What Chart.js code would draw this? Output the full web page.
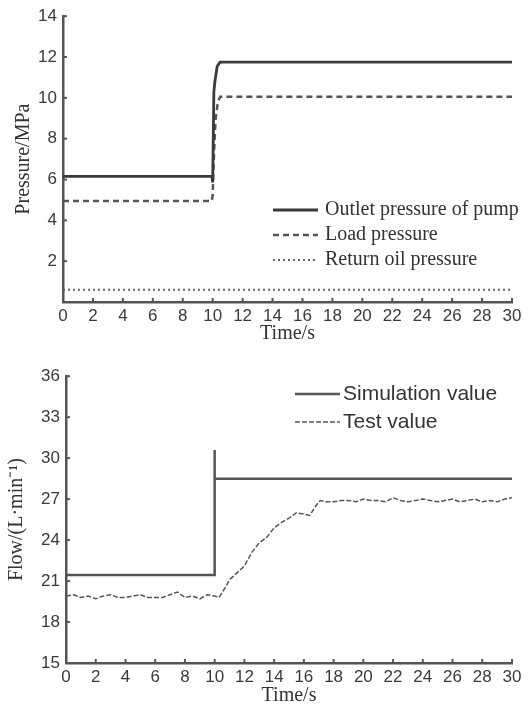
<!DOCTYPE html>
<html>
<head>
<meta charset="utf-8">
<script src="https://cdn.jsdelivr.net/npm/chart.js@4"></script>
<style>
  body { margin: 0; background: #fff; }
  canvas { position: absolute; left: 0; }
  #top { top: 0; }
  #bottom { top: 360px; }
</style>
</head>
<body>
<canvas id="top" width="529" height="360"></canvas>
<canvas id="bottom" width="529" height="350"></canvas>
<script>
// top chart: pressures
const outletTime = [0, 9.95, 10.0, 10.08, 10.15, 10.3, 10.5, 30];
const outletPressure = [6.15, 6.15, 5.85, 10.3, 10.8, 11.55, 11.75, 11.75];
const loadTime = [0, 9.95, 10.0, 10.1, 10.2, 10.35, 10.5, 30];
const loadPressure = [4.95, 4.95, 5.25, 7.5, 9.0, 9.8, 10.05, 10.05];
const returnTime = [0, 30];
const returnPressure = [0.6, 0.6];
const pressureLabels = ['Outlet pressure of pump', 'Load pressure', 'Return oil pressure'];

// bottom chart: flow
const simTime = [0, 10, 10, 10, 30];
const simFlow = [21.45, 21.45, 30.6, 28.5, 28.5];
const testTime = [0, 0.5, 1, 1.5, 2, 2.5, 3, 3.5, 4, 4.5, 5, 5.5, 6, 6.5, 7, 7.5, 8, 8.5, 9, 9.5, 10, 10.3,
  10.7, 11, 11.5, 12, 12.5, 13, 13.5, 14, 14.5, 15, 15.5, 16, 16.4, 16.8, 17.1, 17.5, 18, 18.5, 19, 19.5,
  20, 20.5, 21, 21.5, 22, 22.5, 23, 23.5, 24, 24.5, 25, 25.5, 26, 26.5, 27, 27.5, 28, 28.5, 29, 29.5, 30];
const testFlow = [19.9, 20.0, 19.8, 19.9, 19.7, 19.9, 20.0, 19.8, 19.8, 19.9, 20.0, 19.8, 19.8, 19.8, 20.0, 20.2, 19.8, 19.9, 19.7, 20.0, 19.9, 19.8,
  20.5, 21.1, 21.6, 22.1, 23.1, 23.8, 24.2, 24.9, 25.3, 25.6, 26.0, 25.9, 25.8, 26.5, 26.9, 26.8, 26.8, 26.9, 26.9, 26.8,
  27.0, 26.9, 26.9, 26.8, 27.1, 26.9, 26.8, 26.9, 27.0, 26.9, 26.8, 26.9, 27.0, 26.8, 26.9, 27.0, 26.8, 26.9, 26.8, 27.0, 27.1];
const flowLabels = ['Simulation value', 'Test value'];

const sans = '"Liberation Sans", Arial, sans-serif';
const serif = '"Liberation Serif", "Times New Roman", serif';
const axisColor = '#555';

const pts = (xs, ys) => xs.map((x, i) => ({ x: x, y: ys[i] }));

// small inward tick marks on both axes
const innerTicks = {
  id: 'innerTicks',
  afterDraw(chart) {
    const ctx = chart.ctx, a = chart.chartArea;
    const xs = chart.scales.x, ys = chart.scales.y;
    ctx.save();
    ctx.strokeStyle = axisColor;
    ctx.lineWidth = 2;
    xs.ticks.forEach(t => {
      const px = xs.getPixelForValue(t.value);
      ctx.beginPath(); ctx.moveTo(px, a.bottom); ctx.lineTo(px, a.bottom - 4); ctx.stroke();
    });
    ys.ticks.forEach(t => {
      const py = ys.getPixelForValue(t.value);
      ctx.beginPath(); ctx.moveTo(a.left, py); ctx.lineTo(a.left + 4, py); ctx.stroke();
    });
    ctx.restore();
  }
};

// legend drawn inside the plot
const innerLegend = {
  id: 'innerLegend',
  afterDraw(chart, args, opts) {
    const ctx = chart.ctx;
    ctx.save();
    ctx.font = opts.font;
    ctx.textBaseline = 'middle';
    chart.data.datasets.forEach((ds, i) => {
      const y = opts.y + i * opts.row;
      ctx.strokeStyle = ds.borderColor;
      ctx.lineWidth = ds.borderWidth;
      ctx.setLineDash(ds.borderDash || []);
      ctx.beginPath(); ctx.moveTo(opts.x1, y); ctx.lineTo(opts.x2, y); ctx.stroke();
      ctx.setLineDash([]);
      ctx.fillStyle = '#333';
      ctx.fillText(ds.label, opts.tx, y);
    });
    ctx.restore();
  }
};

function makeScales(o) {
  return {
    x: {
      type: 'linear', min: 0, max: 30,
      afterFit: s => { s.height = o.xh; },
      ticks: { stepSize: 2, padding: 4, color: '#3a3a3a', font: { family: sans, size: 17 }, maxRotation: 0 },
      grid: { display: false, drawTicks: false },
      border: { color: axisColor, width: 2.5 },
      title: { display: true, text: 'Time/s', color: '#333', font: { family: serif, size: 20 }, padding: o.xtp }
    },
    y: {
      min: o.ymin, max: o.ymax,
      afterFit: s => { s.width = o.yw; },
      ticks: { stepSize: o.step, padding: 6, color: '#3a3a3a', font: { family: sans, size: 17 }, callback: o.cb },
      grid: { display: false, drawTicks: false },
      border: { color: axisColor, width: 2.5 },
      title: { display: true, text: o.ytitle, color: '#333', font: { family: serif, size: 20 }, padding: o.ytp }
    }
  };
}

new Chart(document.getElementById('top'), {
  type: 'line',
  data: {
    datasets: [
      { label: pressureLabels[0], data: pts(outletTime, outletPressure), borderColor: '#3a3a3a', borderWidth: 2.8 },
      { label: pressureLabels[1], data: pts(loadTime, loadPressure), borderColor: '#555', borderWidth: 2.5, borderDash: [6, 4] },
      { label: pressureLabels[2], data: pts(returnTime, returnPressure), borderColor: '#666', borderWidth: 2, borderDash: [2, 3] }
    ]
  },
  options: {
    responsive: false,
    animation: false,
    layout: { padding: { top: 15, right: 17, left: 0, bottom: 0 } },
    elements: { point: { radius: 0 }, line: { tension: 0 } },
    plugins: {
      legend: { display: false }, tooltip: { enabled: false },
      innerLegend: { x1: 273, x2: 318, tx: 325, y: 210, row: 25, font: '20px ' + serif }
    },
    scales: makeScales({ ymin: 0, ymax: 14, step: 2, yw: 63, xh: 58, xtp: 14, ytp: 12,
      ytitle: 'Pressure/MPa', cb: v => v === 0 ? '' : v })
  },
  plugins: [innerTicks, innerLegend]
});

new Chart(document.getElementById('bottom'), {
  type: 'line',
  data: {
    datasets: [
      { label: flowLabels[0], data: pts(simTime, simFlow), borderColor: '#555', borderWidth: 2.5 },
      { label: flowLabels[1], data: pts(testTime, testFlow), borderColor: '#555', borderWidth: 1.5, borderDash: [5, 2] }
    ]
  },
  options: {
    responsive: false,
    animation: false,
    layout: { padding: { top: 15, right: 17, left: 0, bottom: 0 } },
    elements: { point: { radius: 0 }, line: { tension: 0 } },
    plugins: {
      legend: { display: false }, tooltip: { enabled: false },
      innerLegend: { x1: 295, x2: 340, tx: 343, y: 34, row: 28, font: '21px ' + sans }
    },
    scales: makeScales({ ymin: 15, ymax: 36, step: 3, yw: 66, xh: 47, xtp: 2, ytp: 5,
      ytitle: 'Flow/(L·min⁻¹)', cb: v => v })
  },
  plugins: [innerTicks, innerLegend]
});
</script>
</body>
</html>
